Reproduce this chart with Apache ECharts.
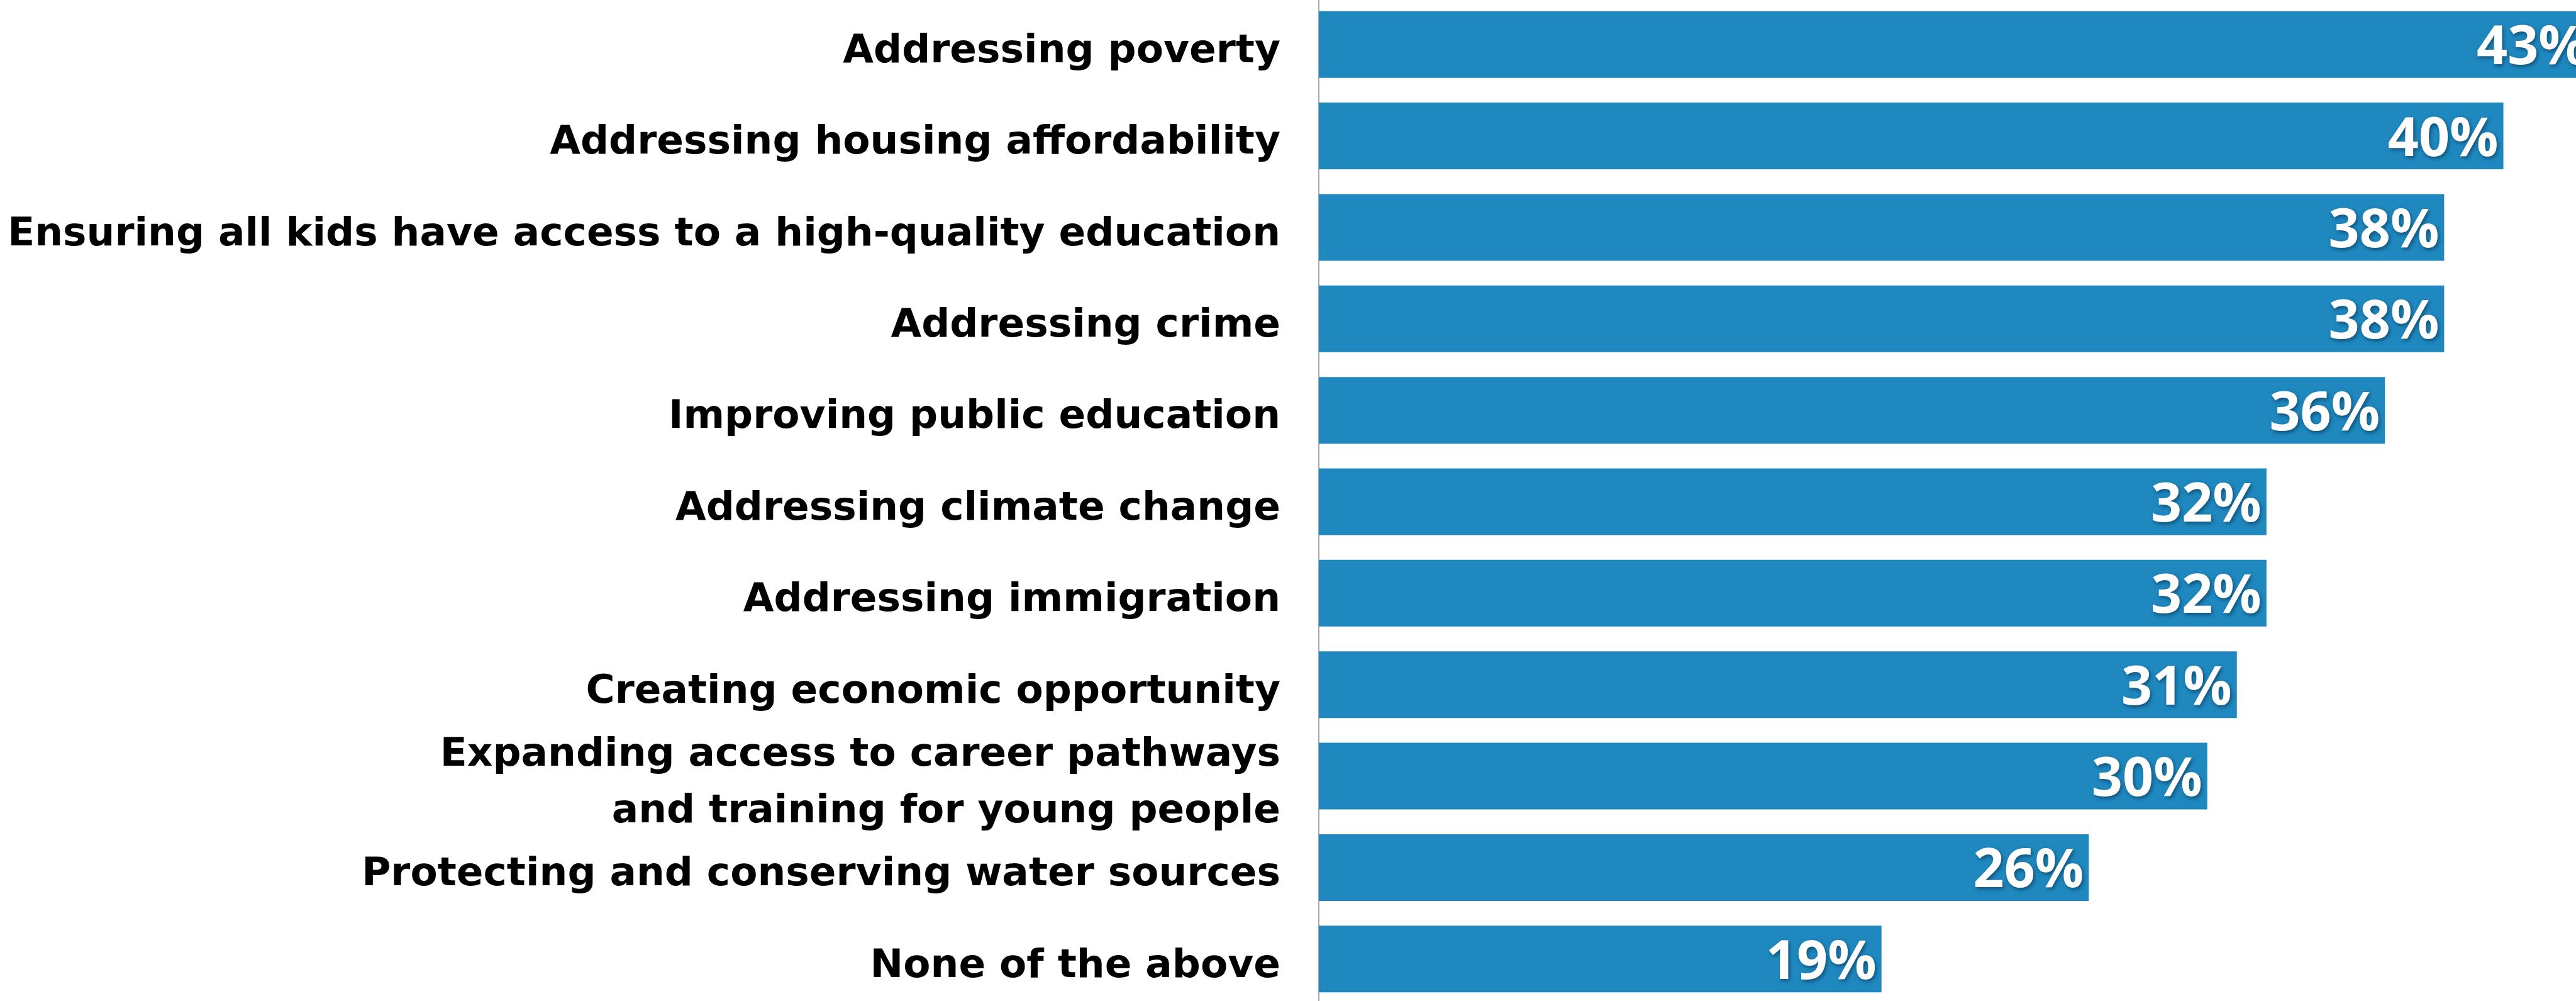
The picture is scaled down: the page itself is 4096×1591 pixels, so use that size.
<!DOCTYPE html>
<html>
<head>
<meta charset="utf-8">
<script src="https://cdn.jsdelivr.net/npm/echarts@6/dist/echarts.min.js"></script>
<style>
  html, body { margin: 0; padding: 0; background: #ffffff; }
  #chart { width: 4096px; height: 1591px; }
</style>
</head>
<body>
<div id="chart"></div>
<script>
// Priorities, listed top to bottom
const categories = [
  'Addressing poverty',
  'Addressing housing affordability',
  'Ensuring all kids have access to a high-quality education',
  'Addressing crime',
  'Improving public education',
  'Addressing climate change',
  'Addressing immigration',
  'Creating economic opportunity',
  'Expanding access to career pathways\nand training for young people',
  'Protecting and conserving water sources',
  'None of the above'
];
// Share of respondents, percent
const shares = [43, 40, 38, 38, 36, 32, 32, 31, 30, 26, 19];

const chart = echarts.init(document.getElementById('chart'), null, { renderer: 'canvas' });

// wrap every line of a category name in the "t" rich style
const wrapLines = (name) => name.split('\n').map((line) => '{t|' + line + '}').join('\n');

chart.setOption({
  animation: false,
  backgroundColor: '#ffffff',
  // the plot runs a little past the right edge, so the longest bar is cut off there
  grid: { left: 2097, top: -2, width: 2119, height: 1599, outerBoundsMode: 'none' },
  xAxis: {
    type: 'value',
    min: 0,
    max: 45,
    show: false
  },
  yAxis: {
    type: 'category',
    data: categories,
    inverse: true,
    axisLine: { show: true, lineStyle: { color: '#a8a8a8', width: 2 } },
    axisTick: { show: false },
    splitLine: { show: false },
    axisLabel: {
      margin: 61,
      align: 'right',
      formatter: wrapLines,
      rich: {
        t: {
          color: '#000000',
          fontFamily: 'DejaVu Sans',
          fontWeight: 'bold',
          fontSize: 63,
          lineHeight: 90,
          padding: [24, 0, 0, 0],
          align: 'right'
        }
      }
    }
  },
  series: [{
    type: 'bar',
    data: shares,
    barWidth: 106,
    itemStyle: { color: '#1f89bf' },
    label: {
      show: true,
      position: 'insideRight',
      distance: 8,
      offset: [0, 7],
      formatter: '{c}%',
      color: '#ffffff',
      fontFamily: 'Open Sans',
      fontWeight: 'bold',
      fontSize: 86,
      textShadowColor: 'rgba(0, 30, 60, 0.55)',
      textShadowBlur: 6,
      textShadowOffsetX: 2,
      textShadowOffsetY: 3
    }
  }]
});
</script>
</body>
</html>
